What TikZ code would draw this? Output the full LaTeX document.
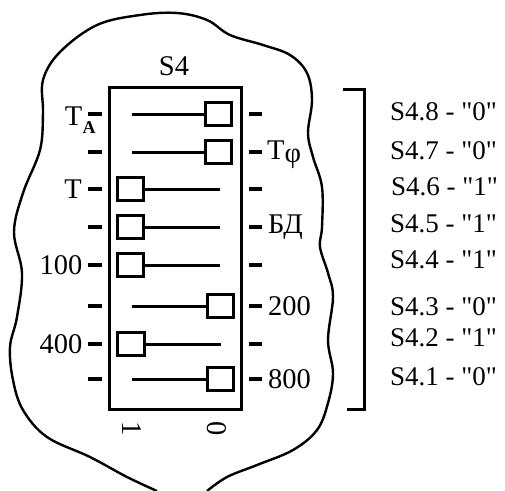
\documentclass[tikz,border=0pt]{standalone}
\usepackage{fontspec}
\setmainfont{Liberation Serif}[Ligatures=TeXOff]
\usepackage{xcolor}
\tikzset{
	lever/.style={line width=3pt},
	tick/.style={line width=3.4pt},
	knob/.style={draw, line width=3.2pt, fill=white, minimum width=26.5pt, minimum height=23.5pt, inner sep=0pt},
	lbl/.style={font=\fontsize{28.5}{29}\selectfont, inner sep=0pt},
	setting/.style={font=\fontsize{27}{27}\selectfont, inner sep=0pt, anchor=west}
}

\begin{document}
\begin{tikzpicture}[x=1pt,y=-1pt]
		\useasboundingbox (0,0) rectangle (505,490);
		\clip (0,0) rectangle (505,490);
		% board outline
		\draw[line width=2.4pt] plot[smooth,tension=.6] coordinates {(157,491) (127,477) (90,457) (47,437) (23,410) (13,380) (10,347) (17,317) (22,273) (14,232) (23,193) (40,150) (43,113) (43,80) (60,52) (97,25) (140,15) (177,13) (207,20) (230,35) (263,45) (290,55) (307,73) (312,100) (308,133) (313,157) (322,187) (322,227) (320,247) (328,273) (333,297) (328,340) (333,373) (328,403) (317,430) (293,450) (257,465) (227,477) (207,491)};
		% switch body
		\node[draw, line width=3pt, minimum width=132pt, minimum height=322pt, inner sep=0pt] (body) at (175,248) {};
		\node[lbl] (title) at (174,66) {S4};
		% switches
		\node[knob] (k8) at (218.5,114) {};
		\node[knob] (k7) at (218.5,152) {};
		\node[knob] (k6) at (130.5,189) {};
		\node[knob] (k5) at (130.5,227) {};
		\node[knob] (k4) at (130.5,265) {};
		\node[knob] (k3) at (220.5,306) {};
		\node[knob] (k2) at (131,344) {};
		\node[knob] (k1) at (220.5,379) {};
		\coordinate (e8) at (132,114);
		\coordinate (e7) at (132,152);
		\coordinate (e6) at (220,189);
		\coordinate (e5) at (220,227);
		\coordinate (e4) at (220,265);
		\coordinate (e3) at (132,306);
		\coordinate (e2) at (221,344);
		\coordinate (e1) at (132,379);
		\draw[lever] (e8) -- (k8.west);
		\draw[lever] (e7) -- (k7.west);
		\draw[lever] (k6.east) -- (e6);
		\draw[lever] (k5.east) -- (e5);
		\draw[lever] (k4.east) -- (e4);
		\draw[lever] (e3) -- (k3.west);
		\draw[lever] (k2.east) -- (e2);
		\draw[lever] (e1) -- (k1.west);
		% ticks on both sides
		\foreach \row/\ypos in {8/114,7/152,6/189,5/227,4/265,3/306,2/344,1/379}{
			\coordinate (la\row) at (88,\ypos);
			\coordinate (lb\row) at (102,\ypos);
			\coordinate (ra\row) at (249,\ypos);
			\coordinate (rb\row) at (262,\ypos);
			\draw[tick] (la\row) -- (lb\row);
			\draw[tick] (ra\row) -- (rb\row);
		}
		% pin labels
		\node[lbl] (ta) at (73.5,116) {T};
		\node[font=\bfseries\fontsize{18}{18}\selectfont, inner sep=0pt] (tasub) at (89,128) {A};
		\node[lbl, anchor=west] (tphi) at (267,155) {T\raisebox{-3pt}{φ}};
		\node[lbl] (t) at (73,189) {T};
		\node[lbl, anchor=west] (bd) at (268,227) {БД};
		\node[lbl] (n100) at (61,265) {100};
		\node[lbl, anchor=west] (n200) at (268,306) {200};
		\node[lbl] (n400) at (61,344) {400};
		\node[lbl, anchor=west] (n800) at (268,379) {800};
		\node[lbl, rotate=-90] (one) at (132,429) {1};
		\node[lbl, rotate=-90] (zero) at (217,429) {0};
		% bracket
		\coordinate (ba) at (343,89);
		\coordinate (bb) at (364,89);
		\coordinate (bc) at (364,409);
		\coordinate (bd2) at (347,409);
		\draw[line width=3pt] (ba) -- (bb) -- (bc) -- (bd2);
		% settings
		\node[setting] (s8) at (390,112) {S4.8 - "0"};
		\node[setting] (s7) at (390,151) {S4.7 - "0"};
		\node[setting] (s6) at (391,187) {S4.6 - "1"};
		\node[setting] (s5) at (390,224) {S4.5 - "1"};
		\node[setting] (s4) at (390,260) {S4.4 - "1"};
		\node[setting] (s3) at (390,307) {S4.3 - "0"};
		\node[setting] (s2) at (390,338) {S4.2 - "1"};
		\node[setting] (s1) at (390,377) {S4.1 - "0"};
	\end{tikzpicture}
\end{document}
